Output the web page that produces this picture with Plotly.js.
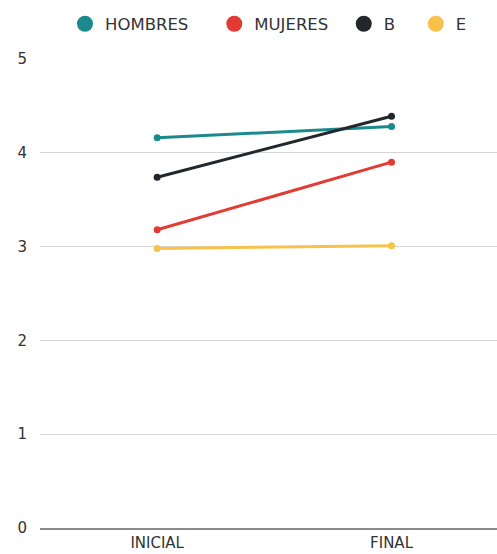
<!DOCTYPE html>
<html>
<head>
<meta charset="utf-8">
<script src="https://cdn.plot.ly/plotly-3.0.1.min.js"></script>
<style>html,body{margin:0;padding:0;background:#fff;}#chart{width:497px;height:554px;}</style>
</head>
<body>
<div id="chart"></div>
<script>
const categories = ["INICIAL", "FINAL"];
const seriesNames = ["HOMBRES", "MUJERES", "B", "E"];
const hombres = [4.16, 4.28];
const mujeres = [3.18, 3.90];
const bSeries = [3.74, 4.39];
const eSeries = [2.98, 3.01];
const yTicks = [0, 1, 2, 3, 4, 5];

const colors = ["#1c8a8c", "#e23b34", "#23272b", "#f6c24c"];
const values = [hombres, mujeres, bSeries, eSeries];
// trailing non-breaking spaces only widen the legend entries
const legendPad = [4, 2, 3, 1];

const traces = [];
values.forEach((v, i) => {
  traces.push({
    x: categories, y: v, type: "scatter", mode: "lines+markers",
    name: seriesNames[i], showlegend: false,
    line: {color: colors[i], width: 3},
    marker: {color: colors[i], size: 7}
  });
});
seriesNames.forEach((n, i) => {
  traces.push({
    x: [null], y: [null], type: "scatter", mode: "markers",
    name: n + "\u00a0".repeat(legendPad[i]),
    marker: {color: colors[i], size: 20}, showlegend: true
  });
});

const FONT = "'DejaVu Sans', sans-serif";
const layout = {
  width: 497, height: 554,
  margin: {l: 40, r: 0, t: 59, b: 26},
  paper_bgcolor: "#fff", plot_bgcolor: "#fff",
  font: {family: FONT, size: 15, color: "#333"},
  showlegend: true,
  legend: {orientation: "h", x: 65 / 497, xanchor: "left", xref: "container",
           y: 1 - 24 / 554, yanchor: "middle", yref: "container",
           font: {family: FONT, size: 16.5, color: "#333"}, itemclick: false},
  xaxis: {type: "category", range: [-0.5, 1.45], showgrid: false, showline: true,
          linecolor: "#8a8a8a", linewidth: 2, ticks: "", zeroline: false,
          ticklabelstandoff: 0,
          tickfont: {family: FONT, size: 15, color: "#333"}},
  yaxis: {range: [0, 5], tickvals: yTicks, showgrid: true, gridcolor: "#d6d6d6",
          gridwidth: 1, zeroline: false, showline: false, ticks: "",
          ticklabelstandoff: 12,
          tickfont: {family: FONT, size: 15, color: "#333"}}
};
Plotly.newPlot("chart", traces, layout, {displayModeBar: false, staticPlot: true});
</script>
</body>
</html>
